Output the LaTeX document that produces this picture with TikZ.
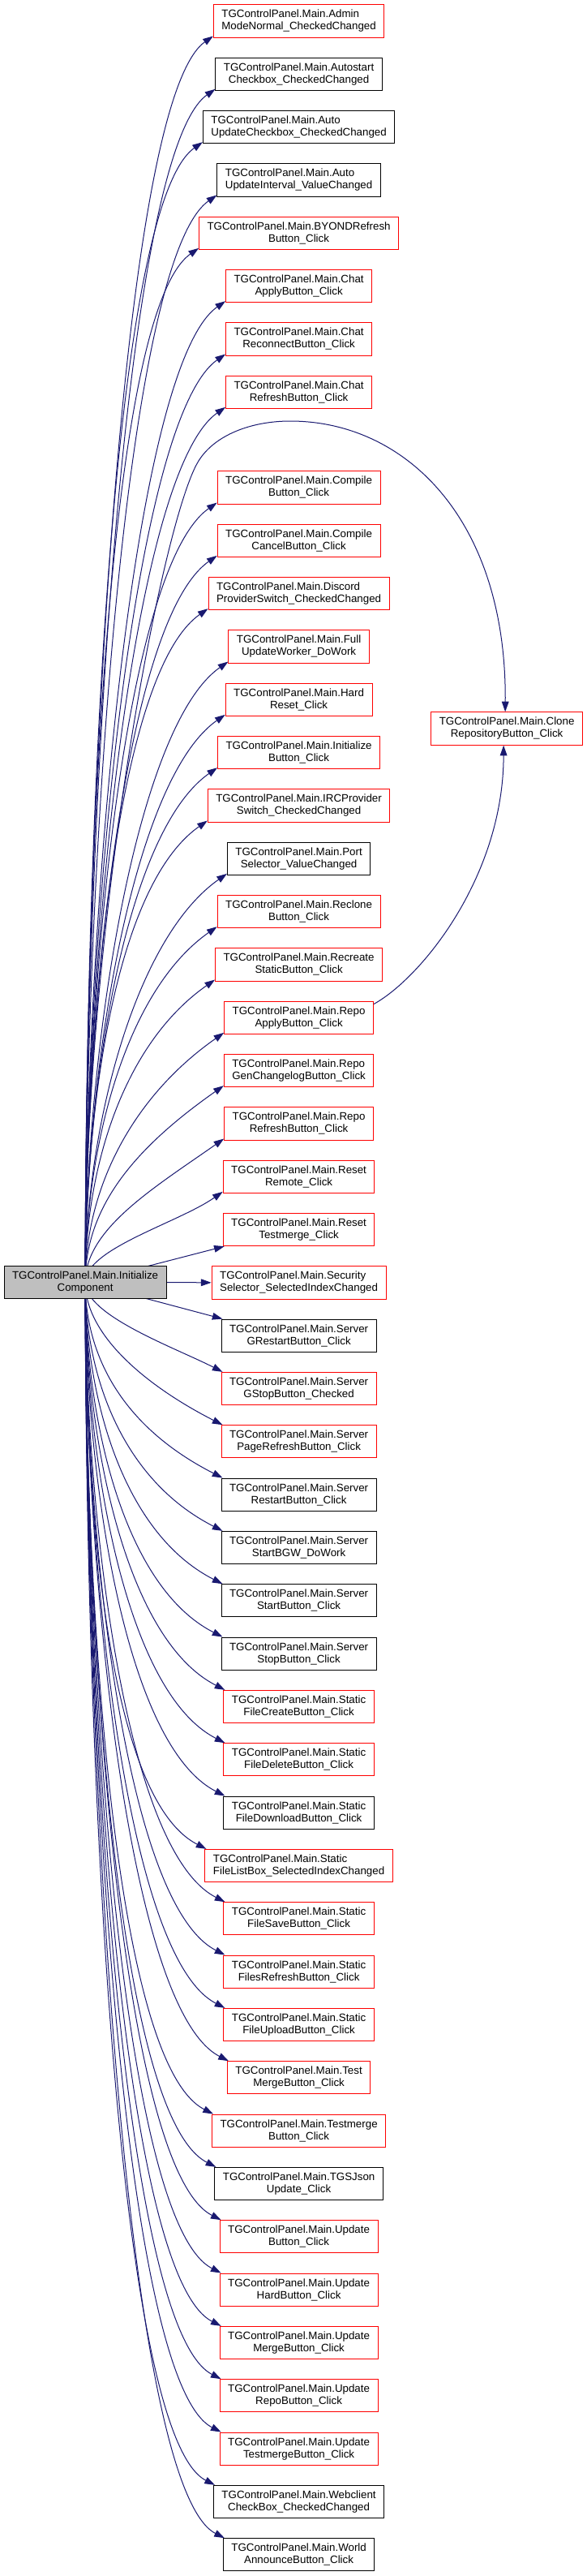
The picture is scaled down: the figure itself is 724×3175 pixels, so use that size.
\documentclass[tikz,border=0pt]{standalone}
\usepackage{fontspec}
\setmainfont{Liberation Sans}
\usetikzlibrary{arrows.meta,calc}
\pgfdeclarelayer{bg}
\pgfsetlayers{bg,main}
\definecolor{edgeblue}{HTML}{191970}
\definecolor{rootgrey}{HTML}{BFBFBF}
\definecolor{nodered}{HTML}{FF0000}
\newsavebox\lbA
\newsavebox\lbB
\newlength\lbW
\newcommand\twoline[2]{%
  \sbox\lbA{#1}\sbox\lbB{#2}%
  \setlength\lbW{\wd\lbA}\ifdim\wd\lbB>\lbW\setlength\lbW{\wd\lbB}\fi
  \vbox{\baselineskip=11.25pt\lineskiplimit=-20pt\lineskip=0pt
    \hbox to\lbW{\usebox\lbA\hfil}\hbox to\lbW{\hfil\usebox\lbB\hfil}}}
\tikzset{
  fnode/.style={draw, line width=0.75pt, fill=white, rectangle,
    inner xsep=7.5pt, inner ysep=0pt, minimum height=30.2pt,
    font=\fontsize{10pt}{11.25pt}\selectfont},
  rootnode/.style={fnode, draw=black, fill=rootgrey},
  calledge/.style={draw=edgeblue, line width=0.75pt,
    -{Triangle[length=9.5pt,width=6.5pt]}}
}
\begin{document}
\begin{tikzpicture}[x=0.75pt,y=-0.75pt]
\useasboundingbox (0,0) rectangle (724,3175);
% callees
\foreach \i/\a/\b/\c in {
 1/Admin/ModeNormal\_CheckedChanged/nodered,
 2/Autostart/Checkbox\_CheckedChanged/black,
 3/Auto/UpdateCheckbox\_CheckedChanged/black,
 4/Auto/UpdateInterval\_ValueChanged/black,
 5/BYONDRefresh/Button\_Click/nodered,
 6/Chat/ApplyButton\_Click/nodered,
 7/Chat/ReconnectButton\_Click/nodered,
 8/Chat/RefreshButton\_Click/nodered,
 9/Compile/Button\_Click/nodered,
 10/Compile/CancelButton\_Click/nodered,
 11/Discord/ProviderSwitch\_CheckedChanged/nodered,
 12/Full/UpdateWorker\_DoWork/nodered,
 13/Hard/Reset\_Click/nodered,
 14/Initialize/Button\_Click/nodered,
 15/IRCProvider/Switch\_CheckedChanged/nodered,
 16/Port/Selector\_ValueChanged/black,
 17/Reclone/Button\_Click/nodered,
 18/Recreate/StaticButton\_Click/nodered,
 19/Repo/ApplyButton\_Click/nodered,
 20/Repo/GenChangelogButton\_Click/nodered,
 21/Repo/RefreshButton\_Click/nodered,
 22/Reset/Remote\_Click/nodered,
 23/Reset/Testmerge\_Click/nodered,
 24/Security/Selector\_SelectedIndexChanged/nodered,
 25/Server/GRestartButton\_Click/black,
 26/Server/GStopButton\_Checked/nodered,
 27/Server/PageRefreshButton\_Click/nodered,
 28/Server/RestartButton\_Click/black,
 29/Server/StartBGW\_DoWork/black,
 30/Server/StartButton\_Click/black,
 31/Server/StopButton\_Click/black,
 32/Static/FileCreateButton\_Click/nodered,
 33/Static/FileDeleteButton\_Click/nodered,
 34/Static/FileDownloadButton\_Click/black,
 35/Static/FileListBox\_SelectedIndexChanged/nodered,
 36/Static/FileSaveButton\_Click/nodered,
 37/Static/FilesRefreshButton\_Click/nodered,
 38/Static/FileUploadButton\_Click/nodered,
 39/Test/MergeButton\_Click/nodered,
 40/Testmerge/Button\_Click/nodered,
 41/TGSJson/Update\_Click/black,
 42/Update/Button\_Click/nodered,
 43/Update/HardButton\_Click/nodered,
 44/Update/MergeButton\_Click/nodered,
 45/Update/RepoButton\_Click/nodered,
 46/Update/TestmergeButton\_Click/nodered,
 47/Webclient/CheckBox\_CheckedChanged/black,
 48/World/AnnounceButton\_Click/black}{
  \pgfmathsetmacro\cy{\i<9 ? 25.9+(\i-1)*65.33 : 600.9+(\i-9)*65.33}
  \node[fnode, draw=\c] (n\i) at (368.6,\cy) {\twoline{TGControlPanel.Main.\a}{\b}};
}
% caller and second-level callee
\node[rootnode, anchor=west] (ic) at (4.6,1580.5) {\twoline{TGControlPanel.Main.Initialize}{Component}};
\node[fnode, draw=nodered, anchor=east] (clone) at (719,898) {\twoline{TGControlPanel.Main.Clone}{RepositoryButton\_Click}};
% connectors
\begin{pgfonlayer}{bg}
\foreach \i in {1,...,22} {
  \draw[calledge] let \p1=(ic.center), \p2=($(n\i.south west)+(0,-2)$),
    \n1={\y2-\y1}, \n2={min(105pt,0.6*\n1)} in
    (\p1) .. controls (\x1,{\y1+0.37*\n1}) and ({\x2-0.819*\n2},{\y2-0.574*\n2}) .. (\p2);
}
\foreach \i in {26,...,48} {
  \draw[calledge] let \p1=(ic.center), \p2=($(n\i.north west)+(2,0)$),
    \n1={\y1-\y2}, \n2={min(105pt,0.6*\n1)} in
    (\p1) .. controls (\x1,{\y1-0.37*\n1}) and ({\x2-0.891*\n2},{\y2+0.454*\n2}) .. (\p2);
}
\draw[calledge] (ic.center) -- ($(n23.south west)+(2,0)$);
\draw[calledge] (ic.center) -- ($(n25.north west)+(2,0)$);
\draw[calledge] (ic.east) -- (n24.west);
\draw[calledge] (ic.center) .. controls (103,1150) and (200,640) .. (245,568)
  .. controls (265,536) and (310,519) .. (358,519)
  .. controls (500,519) and (625,640) .. ($(clone.north)+(-2,0)$);
\draw[calledge] ($(n19.north east)+(0,4)$) .. controls (520,1205) and (621,1080) .. ($(clone.south)+(-4,0)$);
\end{pgfonlayer}
\end{tikzpicture}
\end{document}
